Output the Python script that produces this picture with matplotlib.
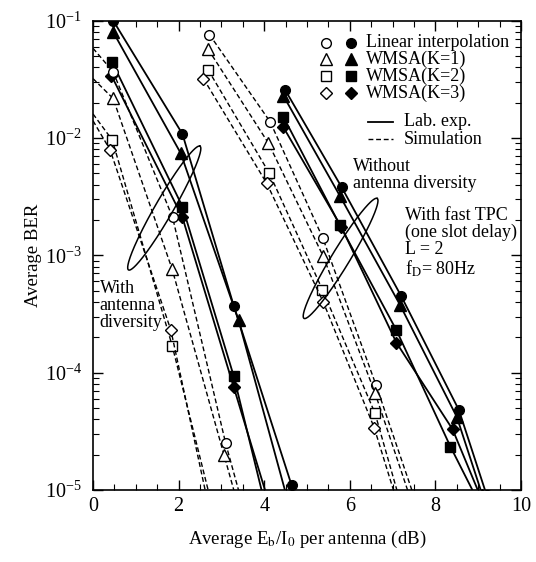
import numpy as np
import matplotlib
matplotlib.use("Agg")
import matplotlib.pyplot as plt
from matplotlib.lines import Line2D

plt.rcParams["font.family"] = ["Liberation Serif", "DejaVu Serif"]
plt.rcParams["mathtext.fontset"] = "stix"

# ---- data: with antenna diversity (left group) ----
lab_div_lin_x = [0.47, 2.09, 3.29, 4.64]
lab_div_lin_y = [0.1, 1.08e-2, 3.7e-4, 1.1e-5]
lab_div_k1_x = [0.47, 2.05, 3.40, 4.6]
lab_div_k1_y = [0.08, 7.4e-3, 2.8e-4, 7e-6]
lab_div_k2_x = [0.45, 2.09, 3.29, 4.05]
lab_div_k2_y = [0.044, 2.6e-3, 9.3e-5, 6.8e-6]
lab_div_k3_x = [0.43, 2.09, 3.29, 4.1]
lab_div_k3_y = [0.034, 2.1e-3, 7.5e-5, 8e-6]

sim_div_lin_x = [0.0, 0.47, 1.86, 3.10, 3.40]
sim_div_lin_y = [0.058, 0.0366, 2.1e-3, 2.5e-5, 1e-5]
sim_div_k1_x = [0.0, 0.47, 1.85, 3.06, 3.29]
sim_div_k1_y = [0.032, 0.0217, 7.6e-4, 2e-5, 1e-5]
sim_div_k2_x = [0.0, 0.45, 1.85, 2.69]
sim_div_k2_y = [0.016, 9.6e-3, 1.7e-4, 1e-5]
sim_div_k3_x = [0.0, 0.40, 1.82, 2.62]
sim_div_k3_y = [0.014, 7.9e-3, 2.3e-4, 1e-5]

# ---- data: without antenna diversity (right group) ----
lab_lin_x = [4.49, 5.81, 7.20, 8.55, 9.2]
lab_lin_y = [0.0256, 3.8e-3, 4.5e-4, 4.8e-5, 9e-6]
lab_k1_x = [4.45, 5.77, 7.17, 8.50, 9.1]
lab_k1_y = [0.0228, 3.2e-3, 3.8e-4, 4.2e-5, 9e-6]
lab_k2_x = [4.45, 5.77, 7.09, 8.35, 9.0]
lab_k2_y = [0.0151, 1.8e-3, 2.3e-4, 2.35e-5, 8e-6]
lab_k3_x = [4.45, 5.80, 7.09, 8.40, 9.1]
lab_k3_y = [0.0123, 1.75e-3, 1.8e-4, 3.3e-5, 8e-6]

sim_lin_x = [2.72, 4.14, 5.37, 6.61, 7.45]
sim_lin_y = [0.076, 0.0137, 1.4e-3, 7.9e-5, 1e-5]
sim_k1_x = [2.69, 4.10, 5.38, 6.59, 7.35]
sim_k1_y = [0.057, 9e-3, 9.8e-4, 6.7e-5, 1e-5]
sim_k2_x = [2.69, 4.12, 5.36, 6.59, 7.10]
sim_k2_y = [0.038, 5e-3, 5.1e-4, 4.5e-5, 1e-5]
sim_k3_x = [2.58, 4.06, 5.38, 6.57, 7.02]
sim_k3_y = [0.032, 4.1e-3, 4e-4, 3.4e-5, 1e-5]

legend_labels = ["Linear interpolation", "WMSA(K=1)", "WMSA(K=2)", "WMSA(K=3)"]
markers = ["o", "^", "s", "D"]
msizes = [7, 8, 7, 6]

# ellipse tips (data coords)
ell_div = [(0.83, 7.5e-4), (2.5, 8.5e-3)]
ell_nodiv = [(4.93, 2.9e-4), (6.64, 3.05e-3)]

fig = plt.figure(figsize=(5.36, 5.62), dpi=100)
ax = fig.add_axes([0.1735, 0.128, 0.7985, 0.8355])
ax.set_yscale("log")
ax.set_xlim(0, 10)
ax.set_ylim(1e-5, 1e-1)

dash = (0, (3.5, 2))
lab_sets = [
    (lab_div_lin_x, lab_div_lin_y), (lab_div_k1_x, lab_div_k1_y),
    (lab_div_k2_x, lab_div_k2_y), (lab_div_k3_x, lab_div_k3_y),
    (lab_lin_x, lab_lin_y), (lab_k1_x, lab_k1_y),
    (lab_k2_x, lab_k2_y), (lab_k3_x, lab_k3_y),
]
for i, (x, y) in enumerate(lab_sets):
    k = i % 4
    ax.plot(x, y, color="k", lw=1.3, marker=markers[k], ms=msizes[k],
            mfc="k", mec="k")

sim_sets = [
    (sim_div_lin_x, sim_div_lin_y, [1, 2, 3]), (sim_div_k1_x, sim_div_k1_y, [1, 2, 3]),
    (sim_div_k2_x, sim_div_k2_y, [1, 2]), (sim_div_k3_x, sim_div_k3_y, [1, 2]),
    (sim_lin_x, sim_lin_y, [0, 1, 2, 3]), (sim_k1_x, sim_k1_y, [0, 1, 2, 3]),
    (sim_k2_x, sim_k2_y, [0, 1, 2, 3]), (sim_k3_x, sim_k3_y, [0, 1, 2, 3]),
]
for i, (x, y, me) in enumerate(sim_sets):
    k = i % 4
    ax.plot(x, y, color="k", lw=1.0, ls=dash, marker=markers[k], ms=msizes[k],
            mfc="white", mec="k", mew=1.0, markevery=me)

# ticks
ax.set_xticks(np.arange(0, 11, 2))
ax.set_xticks(np.arange(0, 10.01, 0.5), minor=True)
ax.tick_params(which="both", direction="in", top=True, right=True, labelsize=14.5)
ax.tick_params(which="major", length=7, width=1)
ax.tick_params(which="minor", length=4, width=0.8)
ax.tick_params(axis="x", pad=5)
ax.tick_params(axis="y", pad=8)
for s in ax.spines.values():
    s.set_linewidth(1.2)

ax.set_xlabel("Average E$_\\mathrm{b}$/I$_\\mathrm{0}$ per antenna (dB)", fontsize=13.5, labelpad=9)
ax.set_ylabel("Average BER", fontsize=13.5, labelpad=2)


def draw_ellipse(tips, half_w_px):
    (x1, y1), (x2, y2) = tips
    p = ax.transData.transform([(x1, y1), (x2, y2)])
    c = p.mean(axis=0)
    d = p[1] - p[0]
    a = np.hypot(*d) / 2
    ang = np.arctan2(d[1], d[0])
    t = np.linspace(0, 2 * np.pi, 200)
    ex = a * np.cos(t)
    ey = half_w_px * np.sin(t)
    px = c[0] + ex * np.cos(ang) - ey * np.sin(ang)
    py = c[1] + ex * np.sin(ang) + ey * np.cos(ang)
    pts = ax.transData.inverted().transform(np.column_stack([px, py]))
    ax.plot(pts[:, 0], pts[:, 1], color="k", lw=1.1)


draw_ellipse(ell_div, 9)
draw_ellipse(ell_nodiv, 9)

# legend drawn by hand
fs = 13
rows = [0.953, 0.917, 0.881, 0.845]
for k, lbl in enumerate(legend_labels):
    ax.plot([0.544], [rows[k]], marker=markers[k], ms=msizes[k], mfc="white",
            mec="k", transform=ax.transAxes, ls="none")
    ax.plot([0.602], [rows[k]], marker=markers[k], ms=msizes[k], mfc="k",
            mec="k", transform=ax.transAxes, ls="none")
    ax.text(0.638, rows[k], lbl, transform=ax.transAxes, fontsize=fs,
            va="center", ha="left")
ax.add_line(Line2D([0.643, 0.702], [0.784, 0.784], color="k", lw=1.3,
                   transform=ax.transAxes))
ax.add_line(Line2D([0.643, 0.702], [0.747, 0.747], color="k", lw=1.0, ls=dash,
                   transform=ax.transAxes))
ax.text(0.727, 0.784, "Lab. exp.", transform=ax.transAxes, fontsize=fs, va="center")
ax.text(0.727, 0.747, "Simulation", transform=ax.transAxes, fontsize=fs, va="center")

ax.text(0.608, 0.708, "Without\nantenna diversity", transform=ax.transAxes,
        fontsize=fs, va="top", ha="left", linespacing=1.0)
ax.text(0.729, 0.603, "With fast TPC\n(one slot delay)\nL = 2\nf$_\\mathrm{D}$= 80Hz",
        transform=ax.transAxes, fontsize=fs, va="top", ha="left", linespacing=1.0)
ax.text(0.016, 0.448, "With\nantenna\ndiversity", transform=ax.transAxes,
        fontsize=fs, va="top", ha="left", linespacing=1.0)

fig.savefig("out.png", dpi=100)
